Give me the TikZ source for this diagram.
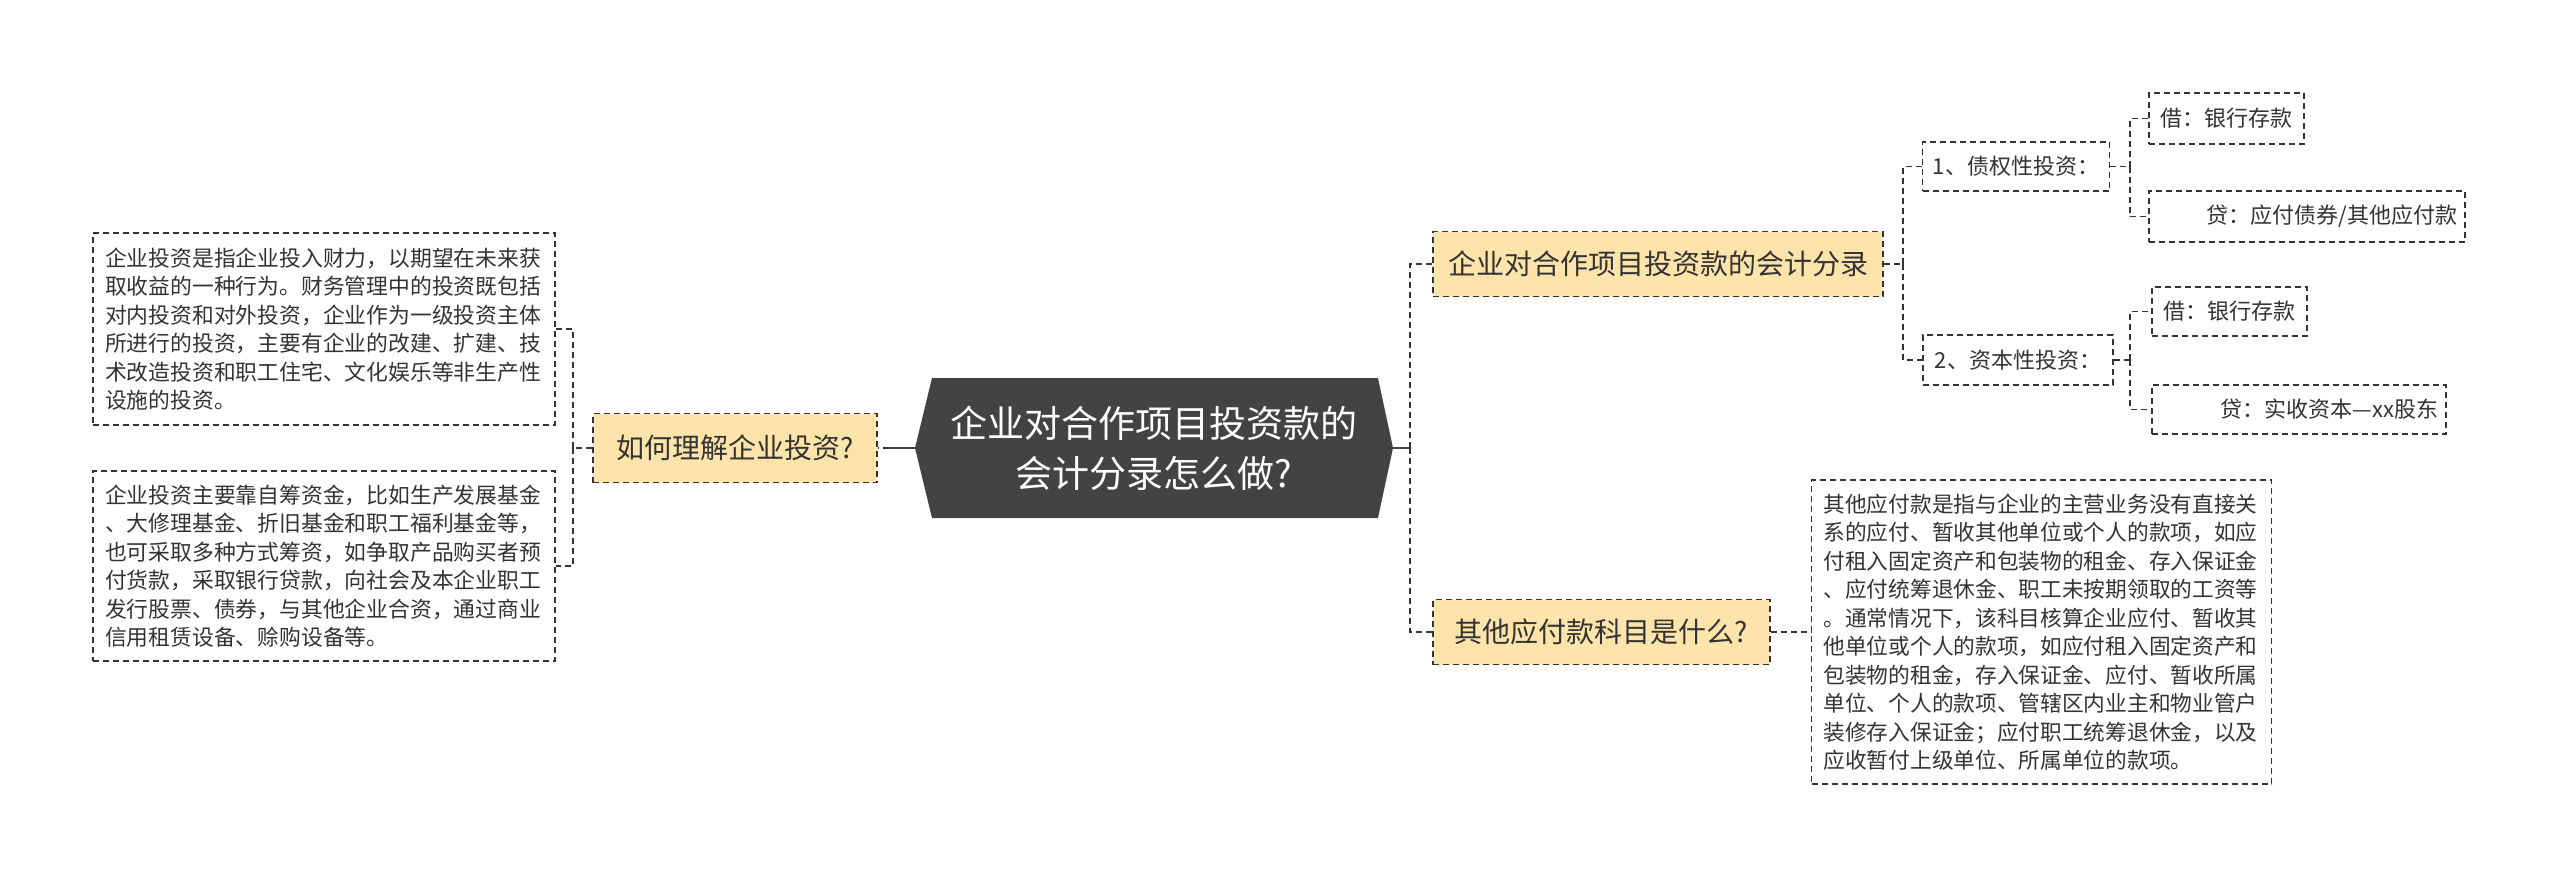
\documentclass[tikz,border=0pt]{standalone}
\usepackage{fontspec}
\setmainfont{Noto Sans CJK SC}
\definecolor{hexfill}{HTML}{434343}
\definecolor{orangefill}{HTML}{FDE4AA}
\definecolor{linecol}{HTML}{333333}
\tikzset{
  dashbox/.style={draw=linecol, line width=0.7pt, dash pattern=on 3pt off 2pt, inner sep=0pt, text=linecol},
  topic/.style={dashbox, fill=orangefill, font=\fontsize{14}{17}\selectfont},
  leaf/.style={dashbox, font=\fontsize{11}{13}\selectfont},
  para/.style={dashbox, align=left, inner xsep=6pt, text width=219pt},
  conn/.style={draw=linecol, line width=0.7pt, dash pattern=on 3pt off 2pt},
  trunk/.style={draw=hexfill, line width=1.3pt},
}
\begin{document}
\begin{tikzpicture}[x=0.5pt,y=-0.5pt]
\useasboundingbox (0,0) rectangle (2560,879);
\fill[white] (0,0) rectangle (2560,879);

% central hexagon
\fill[hexfill] (915,448) -- (932,378) -- (1378,378) -- (1393,448) -- (1378,518) -- (932,518) -- cycle;
\node[minimum width=239pt, minimum height=70pt, inner sep=0pt, text=white, align=center,
      font=\fontsize{18.5}{25}\selectfont] (hex) at (1154,448)
  {企业对合作项目投资款的\\会计分录怎么做?};

% left side
\node[topic, minimum width=142pt, minimum height=34.5pt] (lq) at (735,448) {如何理解企业投资?};
\node[para, minimum height=96pt, font=\fontsize{10.9}{14.25}\selectfont] (b1) at (324,329)
  {企业投资是指企业投入财力，以期望在未来获\\
   取收益的一种行为。财务管理中的投资既包括\\
   对内投资和对外投资，企业作为一级投资主体\\
   所进行的投资，主要有企业的改建、扩建、技\\
   术改造投资和职工住宅、文化娱乐等非生产性\\
   设施的投资。};
\node[para, minimum height=95pt, font=\fontsize{10.9}{14.25}\selectfont] (b2) at (324,566)
  {企业投资主要靠自筹资金，比如生产发展基金\\
   、大修理基金、折旧基金和职工福利基金等，\\
   也可采取多种方式筹资，如争取产品购买者预\\
   付货款，采取银行贷款，向社会及本企业职工\\
   发行股票、债券，与其他企业合资，通过商业\\
   信用租赁设备、赊购设备等。};

% right side topics
\node[topic, minimum width=225pt, minimum height=32.5pt] (rq1) at (1658,264) {企业对合作项目投资款的会计分录};
\node[topic, minimum width=168.5pt, minimum height=32.5pt] (rq2) at (1601.5,632) {其他应付款科目是什么?};

% level 3
\node[leaf, minimum width=93.5pt, minimum height=24.5pt] (t1) at (2016,166.5) {1、债权性投资：};
\node[leaf, minimum width=95pt, minimum height=25pt] (t2) at (2018,360) {2、资本性投资：};

\node[leaf, minimum width=77.5pt, minimum height=25.5pt] (d1) at (2226.5,118.5) {借：银行存款};
\node[leaf, minimum height=25.5pt, text width=150pt, inner xsep=4pt, align=right] (c1) at (2307,216.5) {贷：应付债券/其他应付款};
\node[leaf, minimum width=77.5pt, minimum height=24.5pt] (d2) at (2229.5,311.5) {借：银行存款};
\node[leaf, minimum height=24.5pt, text width=139pt, inner xsep=4pt, align=right] (c2) at (2299,409.5) {贷：实收资本—xx股东};

\node[para, minimum height=152pt, text width=218pt, font=\fontsize{10.85}{14.25}\selectfont] (b3) at (2041.5,632)
  {其他应付款是指与企业的主营业务没有直接关\\
   系的应付、暂收其他单位或个人的款项，如应\\
   付租入固定资产和包装物的租金、存入保证金\\
   、应付统筹退休金、职工未按期领取的工资等\\
   。通常情况下，该科目核算企业应付、暂收其\\
   他单位或个人的款项，如应付租入固定资产和\\
   包装物的租金，存入保证金、应付、暂收所属\\
   单位、个人的款项、管辖区内业主和物业管户\\
   装修存入保证金；应付职工统筹退休金，以及\\
   应收暂付上级单位、所属单位的款项。};

% junction coordinates
\coordinate (lj) at (889,448);
\coordinate (lv) at (573,448);
\coordinate (rv) at (1410,448);
\coordinate (rv1) at (1903,264);
\coordinate (rv2) at (2130,166.5);
\coordinate (rv3) at (2130,360);

% connectors
\draw[trunk] (hex.west) -- (lj);
\draw[conn] (lj) -- (lq.east);
\draw[conn] (lq.west) -- (lv);
\draw[conn] (lv) |- (b1.east);
\draw[conn] (lv) |- (b2.east);

\draw[trunk] (hex.east) -- (rv);
\draw[conn] (rv) |- (rq1.west);
\draw[conn] (rv) |- (rq2.west);

\draw[conn] (rq1.east) -- (rv1);
\draw[conn] (rv1) |- (t1.west);
\draw[conn] (rv1) |- (t2.west);

\draw[conn] (t1.east) -- (rv2);
\draw[conn] (rv2) |- (d1.west);
\draw[conn] (rv2) |- (c1.west);

\draw[conn] (t2.east) -- (rv3);
\draw[conn] (rv3) |- (d2.west);
\draw[conn] (rv3) |- (c2.west);

\draw[conn] (rq2.east) -- (b3.west);
\end{tikzpicture}
\end{document}
